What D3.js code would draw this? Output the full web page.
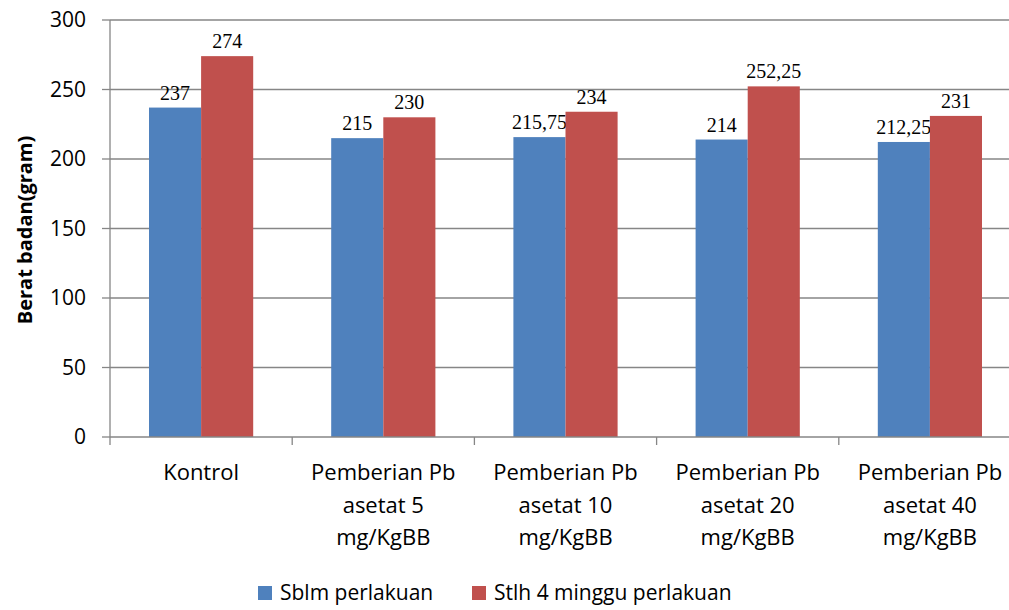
<!DOCTYPE html>
<html>
<head>
<meta charset="utf-8">
<script src="https://cdn.jsdelivr.net/npm/d3@7.9.0/dist/d3.min.js"></script>
<style>
  body { margin: 0; background: #fff; overflow: hidden; }
  svg text { fill: #000; }
</style>
</head>
<body>
<svg id="chart" width="1009" height="610"></svg>
<script>
// categories (multi-line labels)
const categories = [
  ['Kontrol'],
  ['Pemberian Pb', 'asetat 5', 'mg/KgBB'],
  ['Pemberian Pb', 'asetat 10', 'mg/KgBB'],
  ['Pemberian Pb', 'asetat 20', 'mg/KgBB'],
  ['Pemberian Pb', 'asetat 40', 'mg/KgBB'],
];
const seriesNames = ['Sblm perlakuan', 'Stlh 4 minggu perlakuan'];
const sblm = [237, 215, 215.75, 214, 212.25];
const stlh = [274, 230, 234, 252.25, 231];
const yTicks = [0, 50, 100, 150, 200, 250, 300];
const colors = ['#4F81BD', '#C0504D'];

const svg = d3.select('#chart');
// the plot area runs past the right edge of the picture (cropped like the original)
const plotLeft = 110, plotRight = 1021, plotTop = 20, plotBottom = 437;

const x = d3.scaleBand()
  .domain(d3.range(categories.length))
  .range([plotLeft, plotRight])
  .paddingInner(0)
  .paddingOuter(0);

const y = d3.scaleLinear().domain([0, 300]).range([plotBottom, plotTop]);

const fmt = (v) => String(v).replace('.', ',');

// --- gridlines ---
svg.append('g')
  .selectAll('line')
  .data(yTicks.filter((d) => d > 0))
  .enter()
  .append('line')
  .attr('x1', plotLeft)
  .attr('x2', plotRight)
  .attr('y1', (d) => y(d))
  .attr('y2', (d) => y(d))
  .attr('stroke', '#868686')
  .attr('stroke-width', 1.3);

// --- bars ---
const groupPad = 39;
const inner = d3.scaleBand()
  .domain([0, 1])
  .range([groupPad, x.bandwidth() - groupPad]);

const data = [sblm, stlh];

data.forEach((vals, s) => {
  svg.append('g')
    .selectAll('rect')
    .data(vals)
    .enter()
    .append('rect')
    .attr('x', (d, i) => x(i) + inner(s))
    .attr('width', inner.bandwidth())
    .attr('y', (d) => y(d))
    .attr('height', (d) => y(0) - y(d))
    .attr('fill', colors[s]);

  svg.append('g')
    .selectAll('text')
    .data(vals)
    .enter()
    .append('text')
    .attr('x', (d, i) => x(i) + inner(s) + inner.bandwidth() / 2)
    .attr('y', (d) => y(d) - 8)
    .attr('text-anchor', 'middle')
    .style('font-family', '"Liberation Serif", "Times New Roman", serif')
    .style('font-size', '20px')
    .text((d) => fmt(d));
});

// --- axes ---
const axisColor = '#868686';
svg.append('line')
  .attr('x1', plotLeft).attr('x2', plotLeft)
  .attr('y1', plotTop).attr('y2', plotBottom)
  .attr('stroke', axisColor).attr('stroke-width', 1.3);
svg.append('line')
  .attr('x1', plotLeft).attr('x2', plotRight)
  .attr('y1', plotBottom).attr('y2', plotBottom)
  .attr('stroke', axisColor).attr('stroke-width', 1.3);

// y ticks
svg.append('g')
  .selectAll('line')
  .data(yTicks)
  .enter()
  .append('line')
  .attr('x1', plotLeft - 8).attr('x2', plotLeft)
  .attr('y1', (d) => y(d)).attr('y2', (d) => y(d))
  .attr('stroke', axisColor).attr('stroke-width', 1.3);

svg.append('g')
  .selectAll('text')
  .data(yTicks)
  .enter()
  .append('text')
  .attr('x', plotLeft - 24)
  .attr('y', (d) => y(d))
  .attr('dy', '0.35em')
  .attr('text-anchor', 'end')
  .style('font-family', '"Open Sans", sans-serif')
  .style('font-size', '21px')
  .text((d) => d);

// x ticks
svg.append('g')
  .selectAll('line')
  .data(d3.range(categories.length + 1))
  .enter()
  .append('line')
  .attr('x1', (d) => plotLeft + d * x.bandwidth())
  .attr('x2', (d) => plotLeft + d * x.bandwidth())
  .attr('y1', plotBottom).attr('y2', plotBottom + 8)
  .attr('stroke', axisColor).attr('stroke-width', 1.3);

// category labels
const catG = svg.append('g')
  .selectAll('text')
  .data(categories)
  .enter()
  .append('text')
  .attr('text-anchor', 'middle')
  .style('font-family', '"Open Sans", sans-serif')
  .style('font-size', '22px');

catG.selectAll('tspan')
  .data((d, i) => d.map((line) => ({ line, i })))
  .enter()
  .append('tspan')
  .attr('x', (d) => x(d.i) + x.bandwidth() / 2)
  .attr('y', (d, j) => 480 + j * 32.5)
  .text((d) => d.line);

// y axis title
svg.append('text')
  .attr('transform', 'translate(32,230) rotate(-90)')
  .attr('text-anchor', 'middle')
  .style('font-family', '"Open Sans", sans-serif')
  .style('font-weight', 'bold')
  .style('font-size', '20px')
  .text('Berat badan(gram)');

// --- legend ---
const legendX = [258, 472];
const legend = svg.append('g')
  .selectAll('g')
  .data(seriesNames)
  .enter()
  .append('g')
  .attr('transform', (d, i) => `translate(${legendX[i]},586)`);

legend.append('rect')
  .attr('width', 14).attr('height', 14)
  .attr('fill', (d, i) => colors[i]);

legend.append('text')
  .attr('x', 22)
  .attr('y', 7)
  .attr('dy', '0.35em')
  .style('font-family', '"Open Sans", sans-serif')
  .style('font-size', '21px')
  .text((d) => d);
</script>
</body>
</html>
